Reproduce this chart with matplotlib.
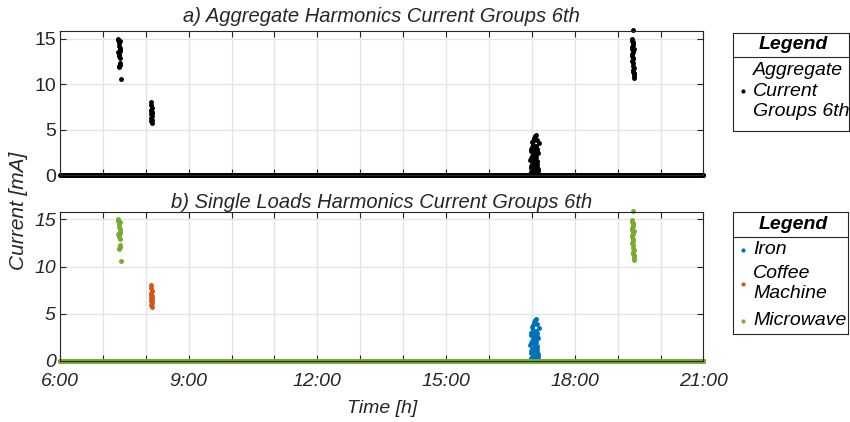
import numpy as np
import matplotlib.pyplot as plt
from matplotlib.lines import Line2D

plt.rcParams['font.family'] = ['Liberation Sans', 'DejaVu Sans']

# one sample per minute from 6:00 to 21:00, time in hours; loads are off (0 mA)
base_t = np.arange(6 * 60, 21 * 60 + 1) / 60.0
base_i = np.zeros(base_t.size)

# microwave, morning run (hours, mA)
mw1_t = [7.35, 7.36, 7.37, 7.38, 7.39, 7.40, 7.36, 7.37, 7.38, 7.39,
         7.40, 7.41, 7.37, 7.38, 7.39, 7.40, 7.42]
mw1_i = [15.0, 14.8, 14.5, 14.2, 14.0, 13.7, 13.5, 13.3, 13.1, 12.9,
         12.3, 12.1, 11.9, 12.0, 14.7, 13.6, 10.6]

# coffee machine
cof_t = [8.12, 8.13, 8.14, 8.13, 8.12, 8.14, 8.13, 8.15, 8.12, 8.14,
         8.13, 8.15, 8.14]
cof_i = [8.0, 7.7, 7.4, 7.2, 7.0, 6.9, 6.7, 6.5, 6.3, 6.1, 5.9, 5.7, 6.8]

# iron
iron_t = [16.96, 16.98, 17.00, 17.02, 17.04, 17.06, 17.08, 17.10, 17.12, 17.14,
          16.97, 16.99, 17.01, 17.03, 17.05, 17.07, 17.09, 17.11, 17.13, 17.15,
          16.96, 16.98, 17.00, 17.02, 17.04, 17.06, 17.08, 17.10, 17.12, 17.14,
          16.97, 16.99, 17.01, 17.03, 17.05, 17.07, 17.09, 17.11, 17.13, 17.01,
          17.03, 17.05, 17.07, 17.09, 17.13, 17.16]
iron_i = [0.1, 0.3, 0.2, 0.5, 0.4, 0.2, 0.6, 0.3, 0.1, 0.4,
          0.8, 1.0, 1.2, 0.9, 1.4, 1.1, 1.3, 0.9, 1.2, 0.7,
          1.7, 1.9, 2.1, 2.3, 1.8, 2.5, 2.2, 2.0, 1.6, 2.4,
          2.7, 2.9, 3.1, 3.3, 2.8, 3.0, 3.2, 2.6, 2.9, 3.6,
          3.8, 4.1, 4.3, 4.4, 3.9, 3.5]

# microwave, evening run
mw2_t = [19.36, 19.33, 19.34, 19.35, 19.36, 19.33, 19.34, 19.35, 19.36, 19.33,
         19.34, 19.35, 19.36, 19.34, 19.35, 19.36, 19.37, 19.35, 19.36, 19.37,
         19.38, 19.37, 19.36, 19.39, 19.38]
mw2_i = [15.9, 14.9, 14.7, 14.5, 14.3, 14.1, 13.9, 13.7, 13.5, 13.3,
         13.1, 12.9, 12.7, 12.5, 12.3, 12.0, 11.8, 11.5, 11.3, 11.1,
         10.9, 10.7, 14.6, 11.2, 13.8]

iron_color = '#0072BD'
cof_color = '#D95319'
mw_color = '#77AC30'
frame_color = '#262626'
grid_color = '#e3e3e3'
fs = 14

hour_ticks = list(range(6, 22))
hour_labels = [f'{h}:00' if h % 3 == 0 else '' for h in hour_ticks]

# aggregate = baseline plus every load event
agg_t = np.concatenate([base_t, mw1_t, cof_t, iron_t, mw2_t])
agg_i = np.concatenate([base_i, mw1_i, cof_i, iron_i, mw2_i])

fig = plt.figure(figsize=(8.5, 4.22), dpi=100)
ax1 = fig.add_axes([0.0706, 0.585, 0.757, 0.341])
ax2 = fig.add_axes([0.0706, 0.145, 0.757, 0.353])


def style_axes(ax, italic):
    ax.set_xlim(6, 21)
    ax.set_ylim(0, 15.8)
    ax.set_xticks(hour_ticks)
    ax.set_yticks([0, 5, 10, 15])
    ax.grid(True, color=grid_color, linewidth=0.9)
    ax.set_axisbelow(True)
    ax.tick_params(direction='in', top=True, right=True, length=4,
                   width=0.8, color=frame_color, labelsize=fs,
                   labelcolor=frame_color, pad=3)
    for s in ax.spines.values():
        s.set_color(frame_color)
        s.set_linewidth(0.8)
    for lbl in ax.get_yticklabels():
        lbl.set_fontstyle('italic' if italic else 'normal')


ax1.plot(agg_t, agg_i, '.', color='black', markersize=5, clip_on=False)
style_axes(ax1, italic=False)
ax1.set_xticklabels([])
ax1.set_title('a) Aggregate Harmonics Current Groups 6th', fontsize=14.5,
              fontstyle='italic', color=frame_color, pad=7)

series = [
    ('Iron', iron_t, iron_i, iron_color),
    ('Coffee\nMachine', cof_t, cof_i, cof_color),
    ('Microwave', mw1_t + mw2_t, mw1_i + mw2_i, mw_color),
]
for name, t, i, c in series:
    ax2.plot(np.concatenate([base_t, t]), np.concatenate([base_i, i]), '.',
             color=c, markersize=5, clip_on=False)
style_axes(ax2, italic=True)
ax2.set_xticklabels(hour_labels, fontstyle='italic')
ax2.tick_params(axis='x', pad=9)
ax2.set_title('b) Single Loads Harmonics Current Groups 6th', fontsize=14.5,
              fontstyle='italic', color=frame_color, pad=3)

fig.text(0.022, 0.50, 'Current [mA]', rotation=90, ha='center', va='center',
         fontsize=15, fontstyle='italic', color=frame_color)
fig.text(0.449, 0.033, 'Time [h]', ha='center', va='center',
         fontsize=fs, fontstyle='italic', color=frame_color)


def legend_box(rect, sep, entries):
    lax = fig.add_axes(rect)
    lax.set_xlim(0, 1)
    lax.set_ylim(0, 1)
    lax.set_xticks([])
    lax.set_yticks([])
    for s in lax.spines.values():
        s.set_color(frame_color)
        s.set_linewidth(0.8)
    lax.add_line(Line2D([0, 1], [sep, sep], color=frame_color, linewidth=0.8))
    lax.text(0.52, (1 + sep) / 2, 'Legend', ha='center', va='center',
             fontsize=fs, fontweight='bold', fontstyle='italic')
    for label, y, c in entries:
        lax.plot([0.085], [y], '.', color=c, markersize=4)
        lax.text(0.175, y, label, ha='left', va='center', fontsize=fs,
                 fontstyle='italic', linespacing=1.25)


legend_box([0.862, 0.690, 0.137, 0.232], 0.755,
           [('Aggregate\nCurrent\nGroups 6th', 0.405, 'black')])
legend_box([0.862, 0.209, 0.136, 0.289], 0.795,
           [('Iron', 0.69, iron_color),
            ('Coffee\nMachine', 0.41, cof_color),
            ('Microwave', 0.105, mw_color)])

fig.savefig('out.png', dpi=100)
